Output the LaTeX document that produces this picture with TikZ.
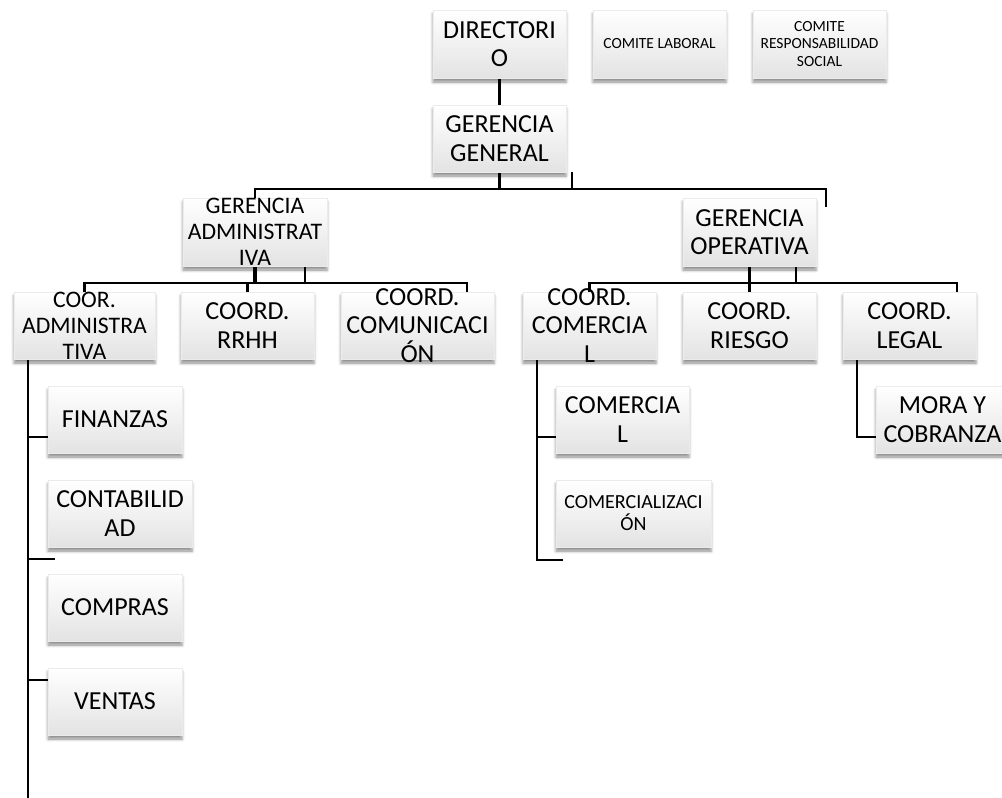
\documentclass[tikz,border=0pt]{standalone}
\usepackage{fontspec}
\setmainfont{Carlito}
\usetikzlibrary{shadows.blur}
\pgfdeclarelayer{background}
\pgfsetlayers{background,main}
\begin{document}
\begin{tikzpicture}[x=1pt,y=-1pt,
  box/.style={rectangle, inner sep=0pt, minimum width=133pt, minimum height=67pt,
    draw=black!8, line width=0.4pt, top color=white, bottom color=black!11,
    blur shadow={shadow xshift=0pt, shadow yshift=-4pt, shadow blur radius=3pt, shadow opacity=45}},
  txt/.style={align=center, inner sep=0pt, font=\fontsize{26}{28.5}\selectfont},
  txtm/.style={align=center, inner sep=0pt, font=\fontsize{23.7}{26}\selectfont},
  txts/.style={align=center, inner sep=0pt, font=\fontsize{15.5}{17.5}\selectfont},
  txtc/.style={align=center, inner sep=0pt, font=\fontsize{20}{22}\selectfont},
  conn/.style={line width=2.6pt, draw=black}
]
\useasboundingbox (0,0) rectangle (1002,798);
\begin{pgfonlayer}{background}
\fill[white] (0,0) rectangle (1002,798);
\end{pgfonlayer}
\node[box] (dummy) at (-400,-400) {};

% boxes
\node[box, minimum height=68pt] (dir) at (499.5,44) {};
\node[box, minimum height=68pt] (cl) at (659.5,44) {};
\node[box, minimum height=68pt] (crs) at (819.5,44) {};
\node[box] (gg) at (499.5,138.5) {};
\node[box, minimum width=144pt, minimum height=68pt] (ga) at (255,232) {};
\node[box, minimum height=68pt] (go) at (749.5,232) {};
\node[box, minimum width=141pt] (ca) at (84.5,325.5) {};
\node[box] (rrhh) at (247.5,325.5) {};
\node[box, minimum width=153pt] (com) at (417.5,325.5) {};
\node[box] (cc) at (589.5,325.5) {};
\node[box] (rie) at (749.5,325.5) {};
\node[box] (leg) at (909.5,325.5) {};
\node[box, minimum width=134pt] (fin) at (115,419.5) {};
\node[box, minimum width=144pt] (cont) at (120,513.5) {};
\node[box, minimum width=134pt] (comp) at (115,607.5) {};
\node[box, minimum width=134pt] (vent) at (115,701.5) {};
\node[box] (comer) at (622.5,419.5) {};
\node[box, minimum width=155pt] (comz) at (633.5,513.5) {};
\node[box] (mora) at (942.5,419.5) {};

% texts
\node[txt] (dir-t) at (dir) {DIRECTORI\\O};
\node[txts] (cl-t) at (cl) {COMITE LABORAL};
\node[txts] (crs-t) at (crs) {COMITE\\RESPONSABILIDAD\\SOCIAL};
\node[txt] (gg-t) at (gg) {GERENCIA\\GENERAL};
\node[txtm] (ga-t) at (ga) {GERENCIA\\ADMINISTRAT\\IVA};
\node[txt] (go-t) at (go) {GERENCIA\\OPERATIVA};
\node[txtm] (ca-t) at (ca) {COOR.\\ADMINISTRA\\TIVA};
\node[txt] (rrhh-t) at (rrhh) {COORD.\\RRHH};
\node[txt] (com-t) at (com) {COORD.\\COMUNICACI\\ÓN};
\node[txt] (cc-t) at (cc) {COORD.\\COMERCIA\\L};
\node[txt] (rie-t) at (rie) {COORD.\\RIESGO};
\node[txt] (leg-t) at (leg) {COORD.\\LEGAL};
\node[txt] (fin-t) at (fin) {FINANZAS};
\node[txt] (cont-t) at (cont) {CONTABILID\\AD};
\node[txt] (comp-t) at (comp) {COMPRAS};
\node[txt] (vent-t) at (vent) {VENTAS};
\node[txt] (comer-t) at (comer) {COMERCIA\\L};
\node[txtc] (comz-t) at (comz) {COMERCIALIZACI\\ÓN};
\node[txt] (mora-t) at (mora) {MORA Y\\COBRANZA};

\begin{pgfonlayer}{background}
% top level
\draw[conn] (dir.south) -- (gg.north);
\coordinate (bus1) at (500,189);
\draw[conn] (gg.south) -- (gg.south |- bus1);
\coordinate (s1) at (572,172);
\draw[conn] (s1) -- (s1 |- bus1);
\coordinate (e1) at (826,207);
\draw[conn] (ga.north) |- (e1 |- bus1) -- (e1);
% gerencia administrativa
\coordinate (bus2) at (0,283);
\draw[conn, line width=4.2pt] (ga.south) -- (ga.south |- bus2);
\coordinate (s2) at (305,266);
\draw[conn] (s2) -- (s2 |- bus2);
\coordinate (e2) at (467,292);
\draw[conn] (ca.north) |- (e2 |- bus2) -- (e2);
\draw[conn] (rrhh.north) -- (rrhh.north |- bus2);
% gerencia operativa
\draw[conn] (go.south) -- (rie.north);
\coordinate (s3) at (796,266);
\draw[conn] (s3) -- (s3 |- bus2);
\coordinate (e3) at (957,292);
\draw[conn] (cc.north) |- (e3 |- bus2) -- (e3);
% coor. administrativa
\coordinate (caT) at (28,359);
\coordinate (caB) at (28,798);
\draw[conn] (caT) -- (caB);
\coordinate (t1) at (28,437);
\draw[conn] (t1) -- (t1 -| fin.west);
\coordinate (t2) at (28,559);
\coordinate (t2e) at (55,559);
\draw[conn] (t2) -- (t2e);
\coordinate (t3) at (28,680);
\draw[conn] (t3) -- (t3 -| vent.west);
% coord. comercial
\coordinate (ccT) at (537,359);
\coordinate (ccB) at (537,560);
\coordinate (ccE) at (563,560);
\draw[conn] (ccT) -- (ccB) -- (ccE);
\coordinate (t4) at (537,437);
\draw[conn] (t4) -- (t4 -| comer.west);
% coord. legal
\coordinate (lgT) at (857,359);
\coordinate (t5) at (857,437);
\draw[conn] (lgT) -- (t5) -- (t5 -| mora.west);
\end{pgfonlayer}
\end{tikzpicture}
\end{document}
